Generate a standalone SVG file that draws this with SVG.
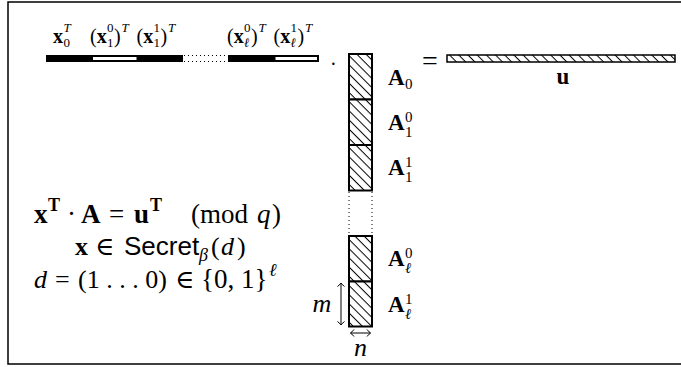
<svg xmlns="http://www.w3.org/2000/svg" width="681" height="367" viewBox="0 0 681 367">
<style>
.m{font-family:"Liberation Serif","DejaVu Serif",serif;fill:#000}
.b{font-weight:bold}
.i{font-style:italic}
.s{font-family:"Liberation Sans","DejaVu Sans",sans-serif}
.t{font-size:20px}
.sc{font-size:13px}
.L{font-size:23px}
.Ls{font-size:15px}
.E{font-size:26px}
.E1{font-size:27px}
.Es{font-size:18px}
.blk{fill:url(#hatch);stroke:#000;stroke-width:2}
.dot{stroke:#000;stroke-width:1;stroke-dasharray:1 3;fill:none}
.arr{stroke:#000;stroke-width:1;fill:none;marker-start:url(#ah);marker-end:url(#ah)}
</style>
<defs>
<pattern id="hatch" patternUnits="userSpaceOnUse" width="6.5" height="6.5" patternTransform="rotate(45)">
<rect width="6.5" height="6.5" fill="#fff"/>
<line x1="0" y1="0.5" x2="6.5" y2="0.5" stroke="#000" stroke-width="1"/>
</pattern>
<marker id="ah" viewBox="-5 -5 10 10" markerWidth="10" markerHeight="10" refX="0" refY="0" orient="auto-start-reverse" markerUnits="userSpaceOnUse">
<path d="M-3.5,-3.5 Q-1,-0.5 0,0 Q-1,0.5 -3.5,3.5" fill="none" stroke="#000" stroke-width="1"/>
</marker>
</defs>
<rect width="681" height="367" fill="#fff"/>
<path d="M690,2 H8 V364 H690" fill="none" stroke="#000" stroke-width="1.5"/>

<g id="vector-x">
<rect x="46" y="55" width="137" height="7" fill="#000"/>
<rect x="228" y="55" width="91" height="7" fill="#000"/>
<rect x="93" y="57" width="43.5" height="3" fill="#fff"/>
<rect x="275.5" y="57" width="41.5" height="3" fill="#fff"/>
<line class="dot" x1="184" y1="55.5" x2="228" y2="55.5"/>
<line class="dot" x1="184" y1="61.5" x2="228" y2="61.5"/>
<text class="m t b" x="53" y="43">x</text>
<text class="m sc i" x="63.5" y="32">T</text>
<text class="m sc" x="63.5" y="47">0</text>

<text class="m t" x="90" y="43">(<tspan class="b">x</tspan></text>
<text class="m sc" x="107" y="32">0</text>
<text class="m sc" x="107" y="47">1</text>
<text class="m t" x="114" y="43">)</text>
<text class="m sc i" x="121.5" y="32">T</text>
<text class="m t" x="136.5" y="43">(<tspan class="b">x</tspan></text>
<text class="m sc" x="153.5" y="32">1</text>
<text class="m sc" x="153.5" y="47">1</text>
<text class="m t" x="160.5" y="43">)</text>
<text class="m sc i" x="168" y="32">T</text>

<text class="m t" x="227" y="43">(<tspan class="b">x</tspan></text>
<text class="m sc" x="244" y="32">0</text>
<text class="m sc i" x="244" y="47">ℓ</text>
<text class="m t" x="251" y="43">)</text>
<text class="m sc i" x="258.5" y="32">T</text>
<text class="m t" x="273.5" y="43">(<tspan class="b">x</tspan></text>
<text class="m sc" x="290.5" y="32">1</text>
<text class="m sc i" x="290.5" y="47">ℓ</text>
<text class="m t" x="297.5" y="43">)</text>
<text class="m sc i" x="305" y="32">T</text>
<text class="m" font-size="20" x="330" y="71">·</text>
</g>

<g id="matrix-A">
<rect class="blk" x="349" y="54" width="23" height="45.5"/>
<rect class="blk" x="349" y="99.5" width="23" height="45.5"/>
<rect class="blk" x="349" y="145" width="23" height="45.5"/>
<line class="dot" x1="349" y1="192" x2="349" y2="235"/>
<line class="dot" x1="372" y1="192" x2="372" y2="235"/>
<rect class="blk" x="349" y="236" width="23" height="45.5"/>
<rect class="blk" x="349" y="281.5" width="23" height="45"/>
<text class="m L b" x="388" y="85">A</text>
<text class="m Ls" x="405" y="89">0</text>
<text class="m L b" x="388" y="130">A</text>
<text class="m Ls" x="405" y="122">0</text>
<text class="m Ls" x="405" y="137">1</text>
<text class="m L b" x="388" y="175">A</text>
<text class="m Ls" x="405" y="167">1</text>
<text class="m Ls" x="405" y="182">1</text>
<text class="m L b" x="388" y="266">A</text>
<text class="m Ls" x="405" y="258">0</text>
<text class="m Ls i" x="405" y="273">ℓ</text>
<text class="m L b" x="388" y="312">A</text>
<text class="m Ls" x="405" y="304">1</text>
<text class="m Ls i" x="405" y="319">ℓ</text>
</g>

<g id="vector-u">
<text class="m" font-size="28" x="422" y="70">=</text>
<rect x="447" y="55" width="228" height="7" fill="url(#hatch)" stroke="#000" stroke-width="1.5"/>
<text class="m b" font-size="23" x="563" y="84" text-anchor="middle">u</text>
</g>

<g id="dimensions">
<line class="arr" x1="341" y1="283" x2="341" y2="325"/>
<text class="m i" font-size="26" x="322" y="312" text-anchor="middle">m</text>
<line class="arr" x1="350.5" y1="333" x2="370.5" y2="333"/>
<text class="m i" font-size="26" x="360.5" y="356" text-anchor="middle">n</text>
</g>

<g id="equations">
<text class="m E1 b" x="34" y="223">x</text>
<text class="m Es b" x="48" y="211">T</text>
<text class="m E1" x="67" y="223">·</text>
<text class="m E1 b" x="81" y="223">A</text>
<text class="m E1" x="109" y="223">=</text>
<text class="m E1 b" x="134" y="223">u</text>
<text class="m Es b" x="150" y="211">T</text>
<text class="m E1" x="191" y="223">(mod</text>
<text class="m E1 i" x="257" y="223">q</text>
<text class="m E1" x="272" y="223">)</text>

<text class="m E b" x="75" y="255">x</text>
<text class="m E" x="95" y="255">∈</text>
<text class="m E s" x="124" y="255">Secret</text>
<text class="m Es i" x="199" y="261">β</text>
<text class="m E" x="211" y="255">(</text>
<text class="m E i" x="221" y="255">d</text>
<text class="m E" x="237" y="255">)</text>

<text class="m E i" x="34" y="288">d</text>
<text class="m E" x="55" y="288">=</text>
<text class="m E" x="78" y="288">(1 . . . 0)</text>
<text class="m E" x="175" y="288">∈</text>
<text class="m E1" x="201" y="288">{0, 1}</text>
<text class="m Es i" x="269" y="276">ℓ</text>
</g>
</svg>
